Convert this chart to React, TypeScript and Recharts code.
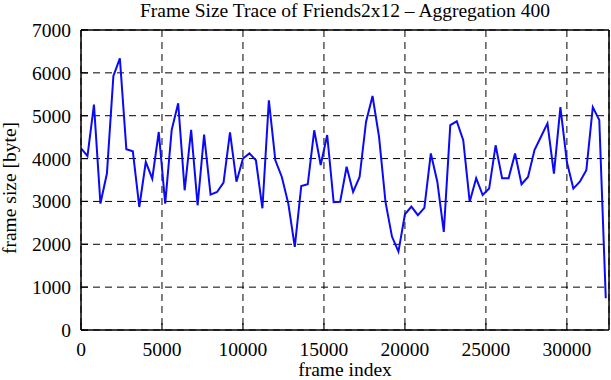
import React from 'react';
import { LineChart, Line, XAxis, YAxis, CartesianGrid } from 'recharts';

const frameIndex = [
  0, 400, 800, 1200, 1600, 2000, 2400, 2800, 3200, 3600,
  4000, 4400, 4800, 5200, 5600, 6000, 6400, 6800, 7200, 7600,
  8000, 8400, 8800, 9200, 9600, 10000, 10400, 10800, 11200, 11600,
  12000, 12400, 12800, 13200, 13600, 14000, 14400, 14800, 15200, 15600,
  16000, 16400, 16800, 17200, 17600, 18000, 18400, 18800, 19200, 19600,
  20000, 20400, 20800, 21200, 21600, 22000, 22400, 22800, 23200, 23600,
  24000, 24400, 24800, 25200, 25600, 26000, 26400, 26800, 27200, 27600,
  28000, 28400, 28800, 29200, 29600, 30000, 30400, 30800, 31200, 31600,
  32000, 32400,
];

const frameSize = [
  4240, 4060, 5260, 2950, 3650, 5930, 6340, 4220, 4170, 2870,
  3920, 3530, 4620, 2950, 4670, 5290, 3260, 4670, 2910, 4560,
  3160, 3220, 3440, 4610, 3460, 4000, 4120, 3960, 2840, 5360,
  3960, 3570, 2950, 1940, 3360, 3400, 4660, 3850, 4550, 2980,
  2990, 3810, 3220, 3570, 4860, 5460, 4510, 2990, 2180, 1830,
  2700, 2880, 2680, 2850, 4120, 3460, 2290, 4780, 4870, 4430,
  2990, 3540, 3150, 3300, 4310, 3540, 3540, 4120, 3400, 3570,
  4200, 4510, 4820, 3650, 5200, 3920, 3300, 3460, 3730, 5200,
  4900, 740,
];

const xTicks = [0, 5000, 10000, 15000, 20000, 25000, 30000];
const yTicks = [0, 1000, 2000, 3000, 4000, 5000, 6000, 7000];
const xDomain = [0, 32600];
const yDomain = [0, 7000];

const titleText = 'Frame Size Trace of Friends2x12 \u2013 Aggregation 400';
const xLabelText = 'frame index';
const yLabelText = 'frame size [byte]';

const data = frameIndex.map((f, i) => ({ frame: f, size: frameSize[i] }));

const FONT = '"Liberation Serif", "Times New Roman", serif';
const FS = 19.5;

const YTick = (props: any) => (
  <text x={71} y={props.y + 7} textAnchor="end" fontFamily={FONT} fontSize={FS} fill="#000">
    {props.payload.value}
  </text>
);

const XTick = (props: any) => (
  <text x={props.x} y={356} textAnchor="middle" fontFamily={FONT} fontSize={FS} fill="#000">
    {props.payload.value}
  </text>
);

const XLabel = () => (
  <text x={345} y={376} textAnchor="middle" fontFamily={FONT} fontSize={FS} fill="#000">
    {xLabelText}
  </text>
);

const YLabel = () => (
  <text
    x={0}
    y={0}
    transform="translate(16,188) rotate(-90)"
    textAnchor="middle"
    fontFamily={FONT}
    fontSize={FS}
    fill="#000"
  >
    {yLabelText}
  </text>
);

const axisLine = { stroke: '#000', strokeWidth: 1.5 };
const tickLine = { stroke: '#000', strokeWidth: 1.2 };

export default function App() {
  return (
    <div style={{ position: 'absolute', left: 0, top: 0, width: 611, height: 380, background: '#fff' }}>
      <div
        style={{
          position: 'absolute',
          left: 0,
          top: 0,
          width: 690,
          textAlign: 'center',
          fontFamily: FONT,
          fontSize: 19.5,
          lineHeight: 'normal',
          color: '#000',
          whiteSpace: 'nowrap',
        }}
      >
        {titleText}
      </div>
      <LineChart
        width={611}
        height={380}
        data={data}
        margin={{ top: 29, right: 1, bottom: 0, left: 0 }}
      >
        <CartesianGrid stroke="#000" strokeWidth={1} strokeDasharray="7 5" />
        <XAxis
          dataKey="frame"
          type="number"
          domain={xDomain}
          ticks={xTicks}
          allowDataOverflow
          height={50}
          tickSize={-7}
          axisLine={axisLine}
          tickLine={tickLine}
          tick={<XTick />}
          interval={0}
          label={{ content: () => <XLabel /> }}
        />
        <XAxis
          xAxisId="top"
          orientation="top"
          dataKey="frame"
          type="number"
          domain={xDomain}
          ticks={xTicks}
          allowDataOverflow
          height={1}
          tickSize={-7}
          axisLine={axisLine}
          tickLine={tickLine}
          tick={false}
          interval={0}
        />
        <YAxis
          type="number"
          domain={yDomain}
          ticks={yTicks}
          allowDataOverflow
          width={81}
          tickSize={-7}
          axisLine={axisLine}
          tickLine={tickLine}
          tick={<YTick />}
          interval={0}
          label={{ content: () => <YLabel /> }}
        />
        <YAxis
          yAxisId="right"
          orientation="right"
          type="number"
          domain={yDomain}
          ticks={yTicks}
          allowDataOverflow
          width={1}
          tickSize={-7}
          axisLine={axisLine}
          tickLine={tickLine}
          tick={false}
          interval={0}
        />
        <Line
          xAxisId="top"
          yAxisId="right"
          type="linear"
          dataKey="size"
          stroke="none"
          strokeWidth={0}
          dot={false}
          activeDot={false}
          legendType="none"
          isAnimationActive={false}
        />
        <Line
          type="linear"
          dataKey="size"
          stroke="#0a0af5"
          strokeWidth={2}
          dot={false}
          activeDot={false}
          isAnimationActive={false}
        />
      </LineChart>
    </div>
  );
}
